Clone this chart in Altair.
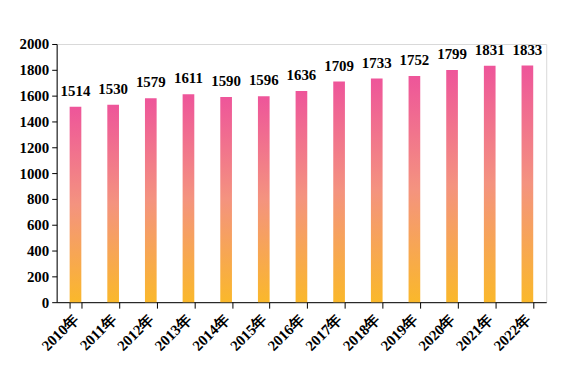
import altair as alt
import pandas as pd

years = ["2010年", "2011年", "2012年", "2013年", "2014年", "2015年", "2016年",
         "2017年", "2018年", "2019年", "2020年", "2021年", "2022年"]
values = [1514, 1530, 1579, 1611, 1590, 1596, 1636, 1709, 1733, 1752, 1799, 1831, 1833]
y_ticks = [0, 200, 400, 600, 800, 1000, 1200, 1400, 1600, 1800, 2000]

df = pd.DataFrame({"year": years, "value": values})

FONT = "Liberation Serif"

gradient = alt.Gradient(
    gradient="linear",
    x1=0, y1=0, x2=0, y2=1,
    stops=[
        alt.GradientStop(color="#EE559A", offset=0),
        alt.GradientStop(color="#F4937F", offset=0.5),
        alt.GradientStop(color="#FAB82B", offset=1),
    ],
)

x = alt.X(
    "year:N", sort=years, title=None,
    scale=alt.Scale(paddingInner=0.69, paddingOuter=0.345),
    axis=alt.Axis(labelAngle=-45, labelFont=FONT, labelFontWeight="bold",
                  labelFontSize=15, labelColor="black", labelAlign="right",
                  labelBaseline="middle", labelPadding=8, labelOverlap=False,
                  tickBand="extent", tickSize=6, tickColor="black",
                  domainColor="black", grid=False),
)
y = alt.Y(
    "value:Q", title=None,
    scale=alt.Scale(domain=[0, 2000], nice=False),
    axis=alt.Axis(values=y_ticks, format="d", labelFont=FONT,
                  labelFontWeight="bold", labelFontSize=15, labelColor="black",
                  labelOverlap=False, labelFlush=False,
                  tickSize=5, tickColor="black", domainColor="black",
                  grid=False, labelPadding=3),
)

base = alt.Chart(df).encode(x=x, y=y)
bars = base.mark_bar(color=gradient)
labels = base.mark_text(
    font=FONT, fontWeight="bold", fontSize=15, color="black",
    baseline="bottom", dy=-8,
).encode(text="value:Q")

chart = (bars + labels).properties(
    width=493, height=260,
    padding={"left": 49, "top": 35, "right": 30, "bottom": 60},
    autosize=alt.AutoSizeParams(type="none"),
    background="white",
).configure_view(stroke="#d9d9d9", strokeWidth=1)

chart.save("out.html", embed_options={"renderer": "svg", "actions": False})
